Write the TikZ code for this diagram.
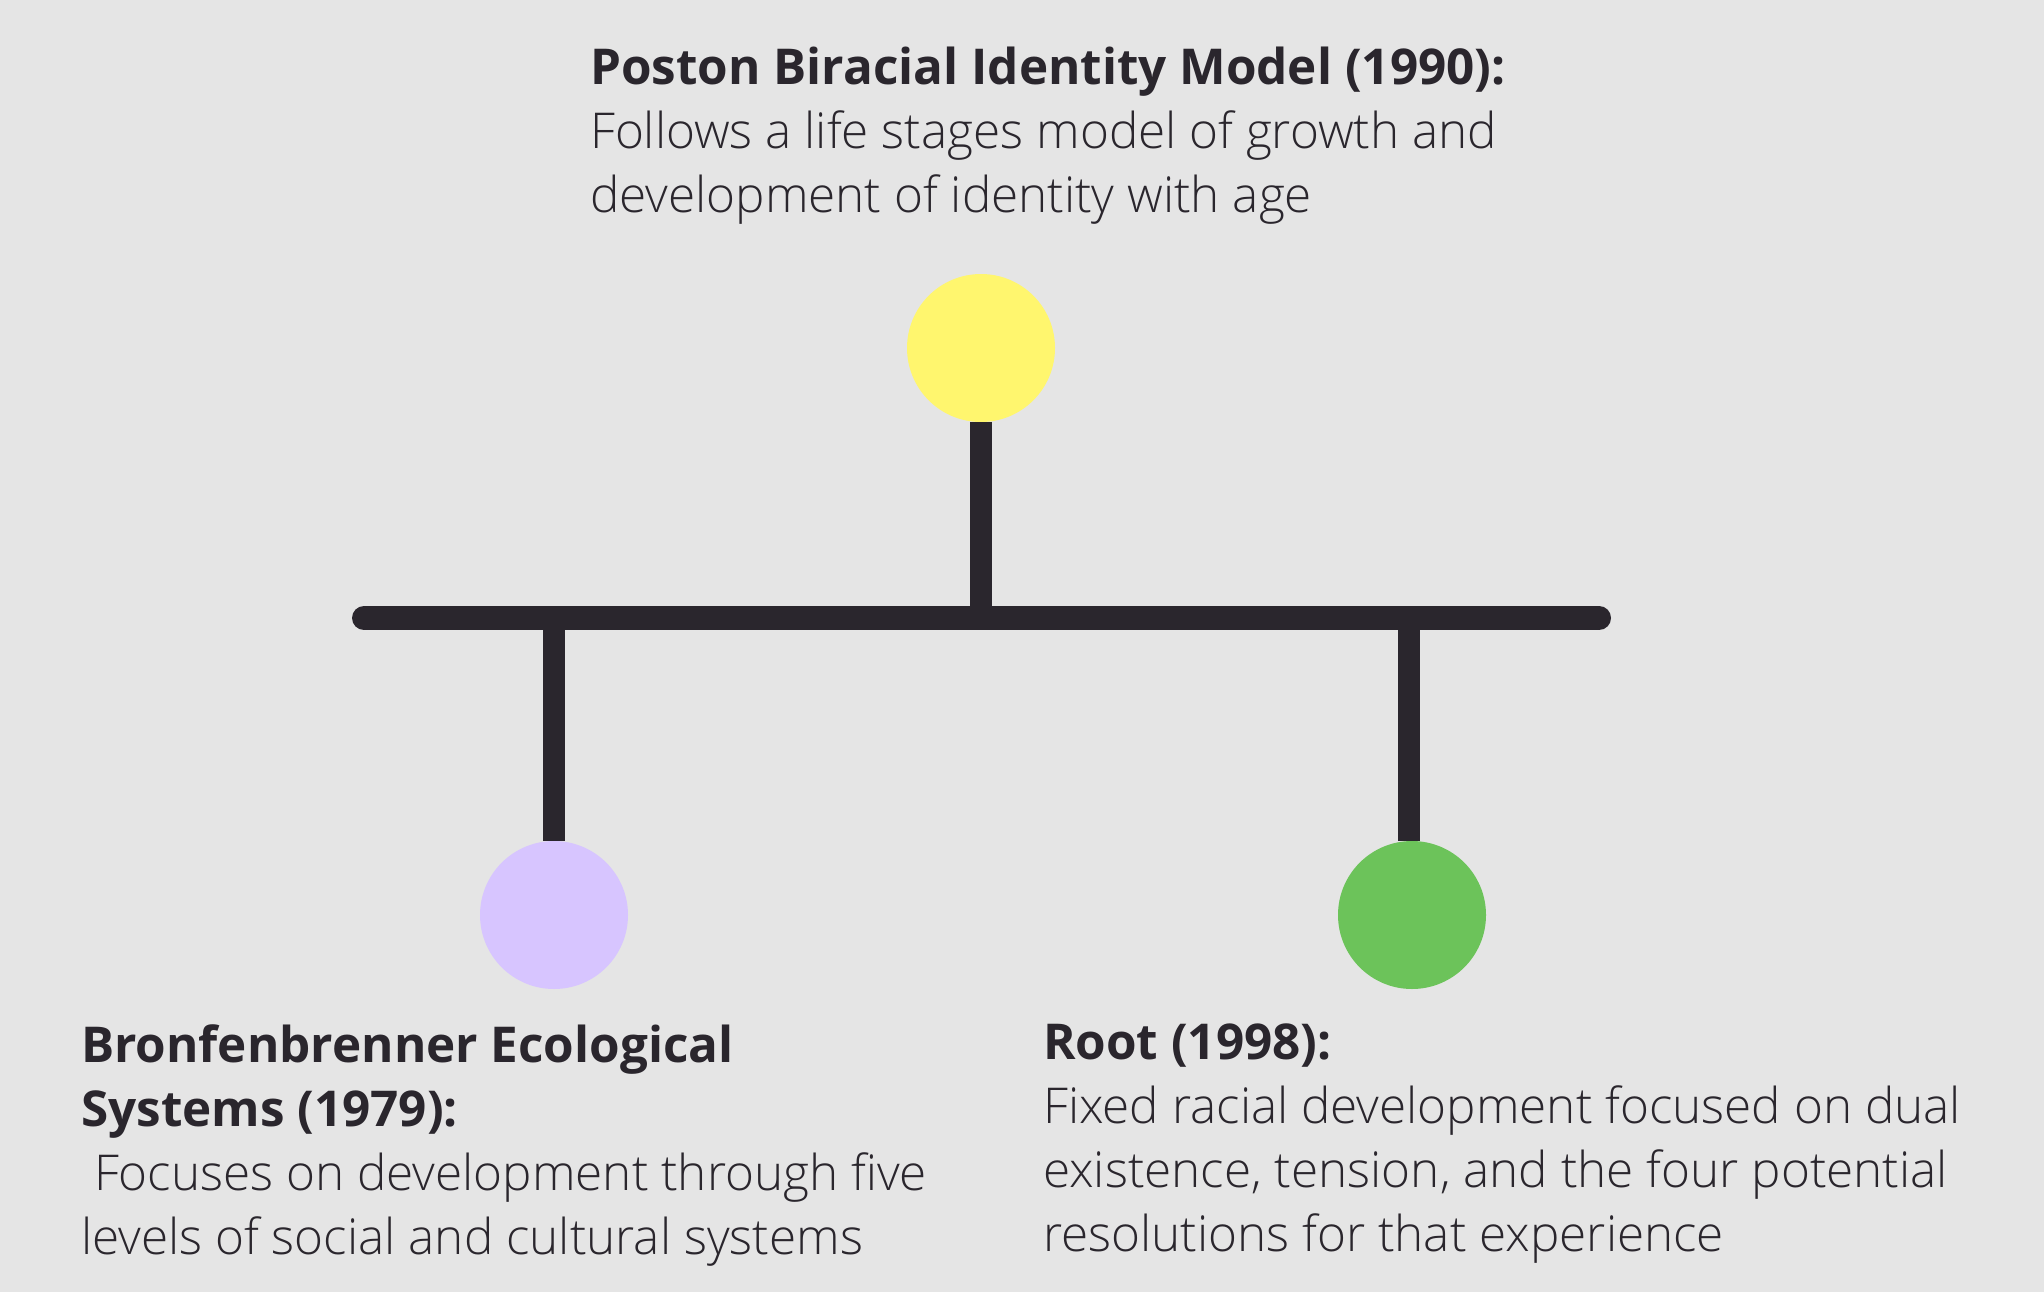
\documentclass[tikz,border=0pt]{standalone}
\usepackage{fontspec}
\setmainfont{Open Sans}
\newfontfamily\lightfont{Open Sans Light}
\definecolor{bg}{HTML}{E5E5E5}
\definecolor{ink}{HTML}{2A262D}
\definecolor{yel}{HTML}{FFF66E}
\definecolor{lav}{HTML}{D7C5FF}
\definecolor{grn}{HTML}{6CC35A}
\tikzset{
  barline/.style={draw=ink, line width=24pt, line cap=round},
  stem/.style={draw=ink, line width=22pt},
  dot/.style={circle, minimum size=148pt, inner sep=0pt, draw=none},
  label/.style={anchor=north west, align=left, inner sep=0pt, text=ink,
    font=\fontsize{49.4}{64}\selectfont}
}
\begin{document}
\begin{tikzpicture}[x=1pt,y=-1pt]
\fill[bg] (0,0) rectangle (2044,1292);
\useasboundingbox (0,0) rectangle (2044,1292);
\coordinate (bl) at (364,618);
\coordinate (br) at (1599,618);
\coordinate (jt) at (981,618);
\coordinate (jl) at (554,618);
\coordinate (jr) at (1409,618);
\node[dot, fill=yel] (top) at (981,348) {};
\node[dot, fill=lav] (left) at (554,915) {};
\node[dot, fill=grn] (right) at (1412,915) {};
\draw[stem] (top.south) -- (jt);
\draw[stem] (jl) -- (left.north);
\draw[stem] (jr) -- (right.north -| jr);
\draw[barline] (bl) -- (br);
\node[label] (ttop) at (590,47) {\textbf{Poston Biracial Identity Model (1990):}\\
{\lightfont Follows a life stages model of growth and}\\
{\lightfont development of identity with age}};
\node[label] (tleft) at (81,1024) {\textbf{Bronfenbrenner Ecological}\\
\textbf{Systems (1979):}\\
{\lightfont\hspace*{0.26em}Focuses on development through five}\\
{\lightfont levels of social and cultural systems}};
\node[label] (tright) at (1043,1024) {\textbf{Root (1998):}\\
{\lightfont Fixed racial development focused on dual}\\
{\lightfont existence, tension, and the four potential}\\
{\lightfont resolutions for that experience}};
\end{tikzpicture}
\end{document}
